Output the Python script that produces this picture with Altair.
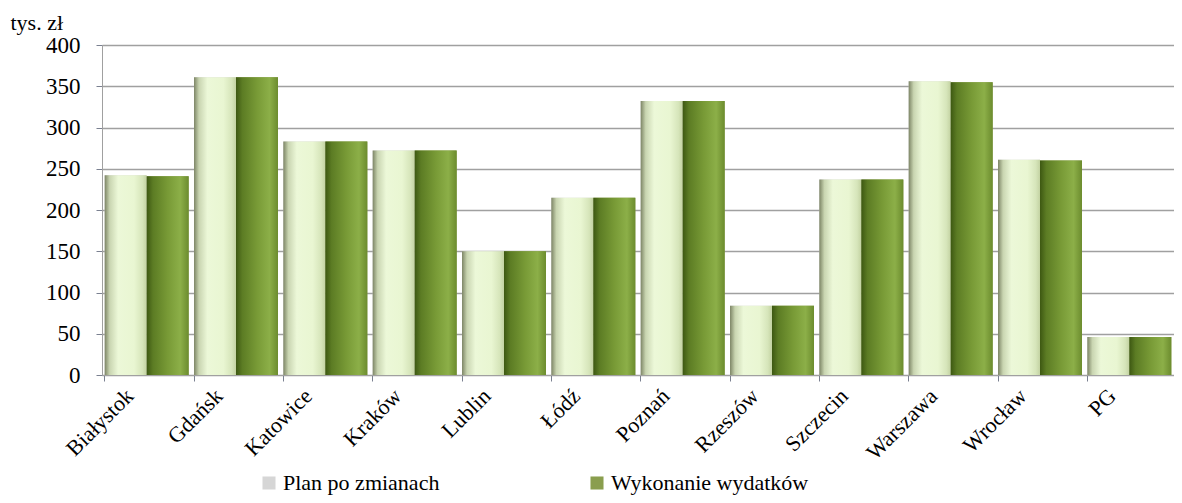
import altair as alt
import pandas as pd

cities = ["Białystok", "Gdańsk", "Katowice", "Kraków", "Lublin", "Łódź",
          "Poznań", "Rzeszów", "Szczecin", "Warszawa", "Wrocław", "PG"]
plan = [242, 361, 283, 272, 150, 215, 332, 84, 237, 356, 261, 46]
wykonanie = [241, 361, 283, 272, 150, 215, 332, 84, 237, 355, 260, 46]
series = ["Plan po zmianach", "Wykonanie wydatków"]

rows = []
for c, p, w in zip(cities, plan, wykonanie):
    rows.append({"miasto": c, "seria": series[0], "wartosc": p})
    rows.append({"miasto": c, "seria": series[1], "wartosc": w})
df = pd.DataFrame(rows)

FONT = "'Liberation Serif', 'Times New Roman', Tinos, 'DejaVu Serif', serif"

x_enc = alt.X("miasto:N", sort=cities,
              scale=alt.Scale(paddingInner=0.06, paddingOuter=0.03),
              axis=alt.Axis(title=None, labelAngle=-45, labelFontSize=22,
                            labelFont=FONT, labelColor="#000", domainColor="#a0a0a0",
                            tickColor="#7a8090", tickSize=6, bandPosition=0,
                            labelOffset=-24, labelPadding=4))
y_enc = alt.Y("wartosc:Q", scale=alt.Scale(domain=[0, 400]),
              axis=alt.Axis(values=list(range(0, 401, 50)), title="tys. zł",
                            titleAngle=0, titleX=-92, titleY=-16, titleAlign="left",
                            titleBaseline="alphabetic", titleFont=FONT,
                            titleFontSize=22, titleFontWeight="normal", titleColor="#000",
                            labelFont=FONT, labelFontSize=23, labelColor="#000",
                            grid=True, gridColor="#a0a0a0", gridWidth=1.5,
                            domainColor="#a0a0a0", tickColor="#7a8090", tickSize=6,
                            labelPadding=16))
xo = alt.XOffset("seria:N", sort=series, scale=alt.Scale(domain=series, paddingInner=0))

base = alt.Chart(df)

legend_layer = base.mark_bar().encode(
    x=x_enc, y=y_enc, xOffset=xo,
    color=alt.Color("seria:N", sort=series,
                    scale=alt.Scale(domain=series, range=["#d6d6d6", "#8a9e4e"]),
                    legend=alt.Legend(title=None, orient="none", legendX=156, legendY=427,
                                      direction="horizontal", symbolType="square",
                                      symbolSize=170, symbolStrokeWidth=0,
                                      labelOffset=3,
                                      labelFont=FONT, labelFontSize=22, labelColor="#000",
                                      columnPadding=146, labelLimit=400)),
)

grad_plan = alt.LinearGradient(
    gradient="linear", x1=0, x2=1, y1=0, y2=0,
    stops=[alt.GradientStop(color="#7d8566", offset=0),
           alt.GradientStop(color="#c9d5b1", offset=0.12),
           alt.GradientStop(color="#ecf8d8", offset=0.32),
           alt.GradientStop(color="#e9f6d2", offset=0.7),
           alt.GradientStop(color="#d6e5ba", offset=0.9),
           alt.GradientStop(color="#c3d2a2", offset=1)])
grad_wyk = alt.LinearGradient(
    gradient="linear", x1=0, x2=1, y1=0, y2=0,
    stops=[alt.GradientStop(color="#3d5812", offset=0),
           alt.GradientStop(color="#5c7c24", offset=0.15),
           alt.GradientStop(color="#789a36", offset=0.5),
           alt.GradientStop(color="#8caf48", offset=0.8),
           alt.GradientStop(color="#6c8c2e", offset=1)])

plan_layer = base.transform_filter(alt.datum.seria == series[0]).mark_bar(
    fill=grad_plan).encode(x=x_enc, y=y_enc, xOffset=xo)
wyk_layer = base.transform_filter(alt.datum.seria == series[1]).mark_bar(
    fill=grad_wyk).encode(x=x_enc, y=y_enc, xOffset=xo)

chart = alt.layer(legend_layer, plan_layer, wyk_layer).properties(
    width=1072, height=330,
    autosize=alt.AutoSizeParams(type="none"),
    padding={"left": 94, "top": 37, "right": 0, "bottom": 125},
).configure_view(stroke=None).configure(background="white", font=FONT)

chart.save("out.html", embed_options={"renderer": "svg", "actions": False})
